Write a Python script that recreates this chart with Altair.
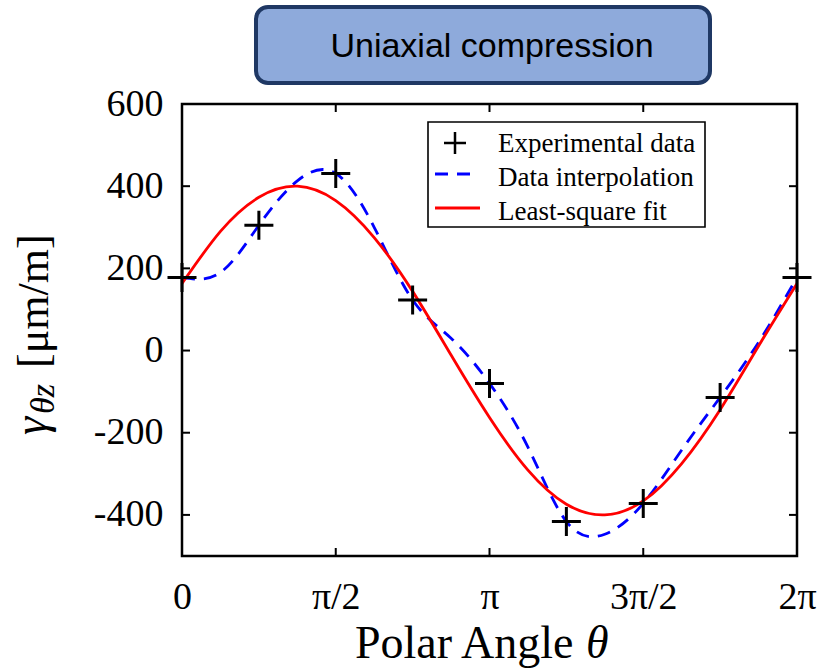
import json
import altair as alt
import pandas as pd

# ---------------- data (x in units of pi) ----------------
exp_x = [0, 0.25, 0.5, 0.75, 1.0, 1.25, 1.5, 1.75, 2.0]
exp_y = [178, 305, 431, 123, -80, -416, -372, -114, 178]

interp_x = [0, 0.125, 0.25, 0.375, 0.5, 0.625, 0.75, 0.875, 1.0,
            1.125, 1.25, 1.375, 1.5, 1.625, 1.75, 1.875, 2.0]
interp_y = [178, 190, 305, 413, 431, 300, 123, 30, -80,
            -235, -416, -447, -372, -242, -114, 20, 178]

fit_x = [0, 0.125, 0.25, 0.375, 0.5, 0.625, 0.75, 0.875, 1.0,
         1.125, 1.25, 1.375, 1.5, 1.625, 1.75, 1.875, 2.0]
fit_y = [163, 290, 373, 400, 365, 275, 144, -11, -163,
         -291, -374, -400, -366, -275, -144, 11, 163]

x_tick_values = [0, 0.5, 1, 1.5, 2]
x_tick_labels = ["0", "π/2", "π", "3π/2", "2π"]
y_tick_values = [-400, -200, 0, 200, 400, 600]
legend_labels = ["Experimental data", "Data interpolation", "Least-square fit"]
title_text = "Uniaxial compression"
x_title = "Polar Angle"
x_title_sym = "θ"
y_title_main = "γ"
y_title_sub = "θz"
y_title_unit = "[μm/m]"

# ---------------- styling ----------------
W, H = 615, 452
SERIF = "Liberation Serif"
SANS = "Liberation Sans"
CROSS = "M-1,0L1,0M0,-1L0,1"

xscale = alt.Scale(domain=[0, 2], nice=False, zero=False)
yscale = alt.Scale(domain=[-500, 600], nice=False, zero=False)

x_label_expr = (f"{json.dumps(x_tick_labels, ensure_ascii=False)}"
                f"[indexof({json.dumps(x_tick_values)}, datum.value)]")

x_axis = alt.Axis(values=x_tick_values, labelExpr=x_label_expr, title=None,
                  domain=False, ticks=False, tickSize=0, grid=False,
                  labelFont=SERIF, labelFontSize=38, labelColor="black",
                  labelPadding=22, labelFlush=False, labelOverlap=False)
y_axis = alt.Axis(values=y_tick_values, labelExpr="toString(datum.value)", title=None,
                  domain=False, ticks=False, tickSize=0, grid=False,
                  labelFont=SERIF, labelFontSize=38, labelColor="black",
                  labelPadding=19, labelFlush=False, labelOverlap=False)


def X(field="x"):
    return alt.X(f"{field}:Q", scale=xscale, axis=x_axis)


def Y(field="y"):
    return alt.Y(f"{field}:Q", scale=yscale, axis=y_axis)


exp_df = pd.DataFrame({"x": exp_x, "y": exp_y})
interp_df = pd.DataFrame({"x": interp_x, "y": interp_y})
fit_df = pd.DataFrame({"x": fit_x, "y": fit_y})
xt_df = pd.DataFrame({"x": x_tick_values})
yt_df = pd.DataFrame({"y": y_tick_values})
one = pd.DataFrame({"a": [0]})

interp_line = alt.Chart(interp_df).mark_line(
    color="#0000ff", strokeWidth=2.8, strokeDash=[13, 9], interpolate="natural"
).encode(x=X(), y=Y())

fit_line = alt.Chart(fit_df).mark_line(
    color="#ff0000", strokeWidth=2.8, interpolate="natural"
).encode(x=X(), y=Y())

points = alt.Chart(exp_df).mark_point(
    shape=CROSS, filled=False, stroke="black", strokeWidth=3, size=841, opacity=1
).encode(x=X(), y=Y())

# inward ticks on all four sides
tick_style = dict(color="black", strokeWidth=2)
xt_bottom = alt.Chart(xt_df).mark_rule(**tick_style).encode(
    x=X(), y=alt.value(H), y2=alt.value(H - 8))
xt_top = alt.Chart(xt_df).mark_rule(**tick_style).encode(
    x=X(), y=alt.value(0), y2=alt.value(8))
yt_left = alt.Chart(yt_df).mark_rule(**tick_style).encode(
    y=Y(), x=alt.value(0), x2=alt.value(8))
yt_right = alt.Chart(yt_df).mark_rule(**tick_style).encode(
    y=Y(), x=alt.value(W), x2=alt.value(W - 8))

# legend
leg_box = alt.Chart(one).mark_rect(fill="white", stroke="black", strokeWidth=1.6).encode(
    x=alt.value(246), x2=alt.value(523), y=alt.value(18), y2=alt.value(123))
leg_cross = alt.Chart(one).mark_point(
    shape=CROSS, filled=False, stroke="black", strokeWidth=2.5, size=484, opacity=1
).encode(x=alt.value(273), y=alt.value(39))
leg_blue = alt.Chart(one).mark_rule(color="#0000ff", strokeWidth=2.8, strokeDash=[13, 9]).encode(
    x=alt.value(253), x2=alt.value(293), y=alt.value(70))
leg_red = alt.Chart(one).mark_rule(color="#ff0000", strokeWidth=2.8).encode(
    x=alt.value(253), x2=alt.value(298), y=alt.value(104))
leg_texts = [
    alt.Chart(one).mark_text(text=lab, font=SERIF, fontSize=27, color="black",
                             align="left", baseline="alphabetic").encode(
        x=alt.value(316), y=alt.value(yy))
    for lab, yy in zip(legend_labels, [48, 82, 116])
]

# x title
xt1 = alt.Chart(one).mark_text(text=x_title, font=SERIF, fontSize=46, color="black",
                               align="left", baseline="alphabetic").encode(
    x=alt.value(173), y=alt.value(554))
xt2 = alt.Chart(one).mark_text(text=x_title_sym, font=SERIF, fontSize=46, fontStyle="italic",
                               color="black", align="left", baseline="alphabetic").encode(
    x=alt.value(404), y=alt.value(554))

# y title (rotated)
yt1 = alt.Chart(one).mark_text(text=y_title_main, font=SERIF, fontSize=46, fontStyle="italic",
                               color="black", align="left", baseline="alphabetic", angle=270).encode(
    x=alt.value(-136), y=alt.value(331))
yt2 = alt.Chart(one).mark_text(text=y_title_sub, font=SERIF, fontSize=34, fontStyle="italic",
                               color="black", align="left", baseline="alphabetic", angle=270).encode(
    x=alt.value(-128), y=alt.value(310))
yt3 = alt.Chart(one).mark_text(text=y_title_unit, font=SERIF, fontSize=44,
                               color="black", align="left", baseline="alphabetic", angle=270).encode(
    x=alt.value(-134), y=alt.value(264))

# title box
tbox = alt.Chart(one).mark_rect(fill="#8eaadb", stroke="#1f3864", strokeWidth=4,
                                cornerRadius=12).encode(
    x=alt.value(74), x2=alt.value(528), y=alt.value(-97), y2=alt.value(-21))
ttext = alt.Chart(one).mark_text(text=title_text, font=SANS, fontSize=34, color="black",
                                 align="center", baseline="alphabetic").encode(
    x=alt.value(310), y=alt.value(-47))

chart = alt.layer(
    interp_line, fit_line, points,
    xt_bottom, xt_top, yt_left, yt_right,
    leg_box, leg_cross, leg_blue, leg_red, *leg_texts,
    xt1, xt2, yt1, yt2, yt3,
    tbox, ttext,
).properties(
    width=W, height=H,
    autosize=alt.AutoSizeParams(type="none"),
    padding={"left": 182, "top": 104, "right": 26, "bottom": 113},
    background="white",
).configure_view(
    stroke="black", strokeWidth=2.5
)

chart.save("out.html", embed_options={"renderer": "svg", "actions": False})
